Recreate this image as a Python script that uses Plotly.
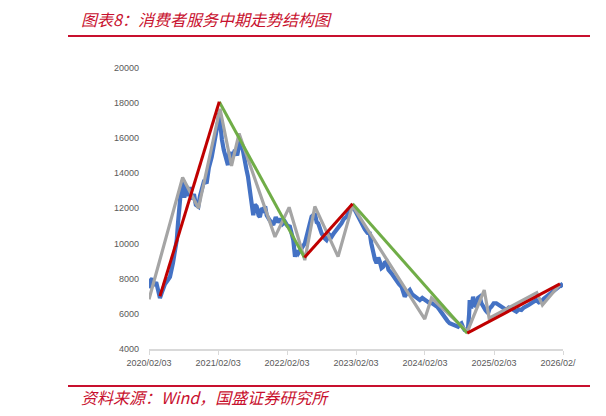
import plotly.graph_objects as go

# ---------------- data ----------------
blue_dates = [
    "2020-02-03","2020-02-12","2020-02-20","2020-03-01","2020-03-12","2020-03-22","2020-04-01","2020-04-14",
    "2020-04-28","2020-05-12","2020-05-24","2020-06-09","2020-06-20","2020-06-29","2020-07-06","2020-07-12",
    "2020-07-20","2020-07-25","2020-08-02","2020-08-08","2020-08-17","2020-08-26","2020-09-07","2020-09-17",
    "2020-09-28","2020-10-08","2020-10-21","2020-10-30","2020-11-09","2020-11-22","2020-12-04","2020-12-16",
    "2020-12-31","2021-01-10","2021-01-22","2021-02-01","2021-02-09","2021-02-16","2021-02-23","2021-03-05",
    "2021-03-13","2021-03-27","2021-04-05","2021-04-12","2021-04-22","2021-05-03","2021-05-15","2021-05-29",
    "2021-06-14","2021-06-25","2021-07-03","2021-07-11","2021-07-20","2021-07-30","2021-08-08","2021-08-17",
    "2021-08-26","2021-09-05","2021-09-12","2021-09-22","2021-09-30","2021-10-10","2021-10-18","2021-11-04",
    "2021-11-22","2021-12-05","2021-12-15","2021-12-27","2022-01-10","2022-01-23","2022-02-05","2022-02-18",
    "2022-03-01","2022-03-08","2022-03-17","2022-03-25","2022-04-03","2022-04-21","2022-05-08","2022-05-26",
    "2022-06-05","2022-06-13","2022-06-30","2022-07-10","2022-07-18","2022-08-05","2022-08-20","2022-08-31",
    "2022-09-15","2022-09-27","2022-10-10","2022-10-23","2022-11-05","2022-11-18","2022-12-01","2022-12-15",
    "2022-12-28","2023-01-10","2023-01-28","2023-02-10","2023-02-23","2023-03-13","2023-03-22","2023-04-05",
    "2023-04-17","2023-04-25","2023-05-05","2023-05-14","2023-05-23","2023-06-01","2023-06-09","2023-06-18",
    "2023-06-27","2023-07-05","2023-07-15","2023-07-25","2023-08-10","2023-08-22","2023-09-05","2023-09-18",
    "2023-10-02","2023-10-10","2023-10-19","2023-11-01","2023-11-15","2023-11-28","2023-12-11","2023-12-25",
    "2024-01-07","2024-01-20","2024-02-02","2024-02-15","2024-02-28","2024-03-12","2024-03-26","2024-04-08",
    "2024-04-21","2024-05-05","2024-05-18","2024-06-01","2024-06-13","2024-06-25","2024-07-09","2024-07-27",
    "2024-08-05","2024-08-14","2024-08-24","2024-08-31","2024-09-10","2024-09-18","2024-09-24","2024-09-27",
    "2024-10-05","2024-10-15","2024-10-24","2024-11-01","2024-11-10","2024-11-19","2024-11-28","2024-12-06",
    "2024-12-20","2025-01-02","2025-01-10","2025-01-20","2025-02-01","2025-02-15","2025-03-01","2025-03-14",
    "2025-03-27","2025-04-09","2025-04-22","2025-05-06","2025-05-19","2025-06-01","2025-06-14","2025-06-28",
    "2025-07-10","2025-07-24","2025-08-05","2025-08-19","2025-09-01","2025-09-15","2025-09-28","2025-10-11",
    "2025-10-24","2025-11-07","2025-11-20","2025-12-03","2025-12-16","2025-12-30","2026-01-12","2026-01-25",
    "2026-02-03",
]
blue_values = [
    7450, 7900, 8000, 7600, 7800, 7200, 6900, 7300,
    7700, 7900, 8100, 8900, 9500, 10200, 11200, 12100,
    12900, 13200, 13600, 12600, 13300, 12700, 13200, 12500,
    12800, 12200, 12100, 12700, 13100, 13600, 13400, 14300,
    14900, 15500, 15900, 16800, 17400, 16600, 15900, 15300,
    14900, 14450, 15200, 14700, 15000, 15300, 15000, 15800,
    15300, 14800, 14200, 13800, 13200, 12300, 11600, 12200,
    12100, 11600, 11500, 12000, 11900, 12100, 11600, 11300,
    11050, 11500, 11200, 11400, 11100, 11230, 11000, 10950,
    10500, 10190, 9240, 9600, 9430, 9720, 10000, 10760,
    11200, 11520, 11700, 11200, 11140, 10570, 10300, 10190,
    10500, 10380, 10600, 10760, 11000, 11140, 11400, 11520,
    11800, 12080, 11900, 11600, 11330, 10950, 10800, 10600,
    10570, 10000, 9430, 9100, 8870, 9200, 8960, 8600,
    8680, 8900, 8960, 8500, 8300, 8100, 7920, 7700,
    7540, 7300, 6970, 7200, 7350, 7100, 6970, 6850,
    6780, 6900, 6780, 6700, 6600, 6600, 6500, 6400,
    6220, 6000, 5740, 5600, 5460, 5400, 5360, 5270,
    5400, 5460, 5200, 5080, 5050, 5170, 6000, 6780,
    6300, 6970, 6500, 6410, 6900, 6970, 6600, 6410,
    6200, 6030, 6300, 6410, 6600, 6600, 6500, 6410,
    6300, 6220, 6350, 6310, 6200, 6120, 6250, 6220,
    6350, 6410, 6500, 6600, 6700, 6780, 6650, 6690,
    6850, 6970, 7050, 7160, 7250, 7350, 7500, 7640,
    7540,
]

gray_dates = ["2020-02-03","2020-07-30","2020-10-22","2021-02-13","2021-04-15","2021-05-25",
              "2021-12-01","2022-02-14","2022-05-08","2022-06-30","2022-10-31","2023-01-15",
              "2024-02-02","2024-03-09","2024-09-15","2024-12-13","2025-01-08","2025-09-17",
              "2025-10-17","2026-01-16"]
gray_values = [6820, 13750, 12000, 17650, 14400, 16250,
               10370, 12050, 9050, 12100, 9250, 12150,
               5700, 6900, 5000, 7350, 5750, 7200,
               6500, 7650]

red_segments = [
    (["2020-04-01", "2021-02-09"], [7000, 18050]),
    (["2022-05-06", "2023-01-16"], [9200, 12250]),
    (["2024-09-14", "2026-01-18"], [4900, 7700]),
]
green_segments = [
    (["2021-02-09", "2022-05-06"], [18050, 9200]),
    (["2023-01-16", "2024-09-14"], [12250, 4900]),
]

x_tickvals = ["2020-02-03","2021-02-03","2022-02-03","2023-02-03","2024-02-03","2025-02-03","2026-02-03"]
x_ticktext = ["2020/02/03","2021/02/03","2022/02/03","2023/02/03","2024/02/03","2025/02/03","2026/02/\u2007\u2007"]
y_tickvals = [4000, 6000, 8000, 10000, 12000, 14000, 16000, 18000, 20000]
y_ticktext = [str(v) for v in y_tickvals]

title_text = "图表8：消费者服务中期走势结构图"
source_text = "资料来源：Wind，国盛证券研究所"

# ---------------- figure ----------------
# the page body has an 8px default margin, so the figure is placed 8px in from the top-left
OFF = 8
W, H = 606 - OFF, 416 - OFF
fig = go.Figure()
fig.add_trace(go.Scatter(x=blue_dates, y=blue_values, mode="lines",
                         line=dict(color="#4472C4", width=4.2), hoverinfo="skip"))
fig.add_trace(go.Scatter(x=gray_dates, y=gray_values, mode="lines",
                         line=dict(color="#A5A5A5", width=3.2), hoverinfo="skip"))
for xs, ys in green_segments:
    fig.add_trace(go.Scatter(x=xs, y=ys, mode="lines",
                             line=dict(color="#70AD47", width=3), hoverinfo="skip"))
for xs, ys in red_segments:
    fig.add_trace(go.Scatter(x=xs, y=ys, mode="lines",
                             line=dict(color="#C00000", width=3), hoverinfo="skip"))

px = lambda p: (p - OFF) / W
py = lambda p: 1 - (p - OFF) / H

red = "#C8102E"
shapes = [
    dict(type="line", xref="paper", yref="paper", x0=px(68), x1=px(590), y0=py(36), y1=py(36),
         line=dict(color=red, width=2)),
    dict(type="line", xref="paper", yref="paper", x0=px(600), x1=1, y0=py(36), y1=py(36),
         line=dict(color=red, width=2)),
    dict(type="line", xref="paper", yref="paper", x0=px(68), x1=px(590), y0=py(386), y1=py(386),
         line=dict(color=red, width=2)),
    dict(type="line", xref="paper", yref="paper", x0=px(600), x1=1, y0=py(386), y1=py(386),
         line=dict(color=red, width=2)),
]

annotations = [
    dict(text="<i>" + title_text + "</i>", xref="paper", yref="paper", x=px(79), y=py(19),
         xanchor="left", yanchor="middle", showarrow=False,
         font=dict(family="Noto Sans CJK SC", size=16, color=red)),
    dict(text="<i>" + source_text + "</i>", xref="paper", yref="paper", x=px(79), y=py(397),
         xanchor="left", yanchor="middle", showarrow=False,
         font=dict(family="Noto Sans CJK SC", size=16, color=red)),
]

fig.update_layout(
    width=W, height=H, autosize=False,
    margin=dict(l=0, r=0, t=0, b=0, pad=0, autoexpand=False),
    paper_bgcolor="white", plot_bgcolor="white",
    showlegend=False,
    shapes=shapes, annotations=annotations,
    xaxis=dict(domain=[px(149), px(563)], type="date", automargin=False,
               range=["2020-02-03", "2026-02-03"],
               tickvals=x_tickvals, ticktext=x_ticktext,
               showgrid=False, zeroline=False,
               showline=True, linecolor="#D9D9D9", linewidth=1.5,
               ticks="outside", ticklen=4, tickcolor="#D9D9D9",
               tickfont=dict(family="Liberation Sans", size=9, color="#595959")),
    yaxis=dict(domain=[py(349), py(67.4)], range=[4000, 20000], automargin=False,
               tickvals=y_tickvals, ticktext=y_ticktext,
               showgrid=False, zeroline=False, showline=False,
               ticks="", ticklabelstandoff=9,
               tickfont=dict(family="Liberation Sans", size=9, color="#595959")),
)

fig.write_html("out.html")
